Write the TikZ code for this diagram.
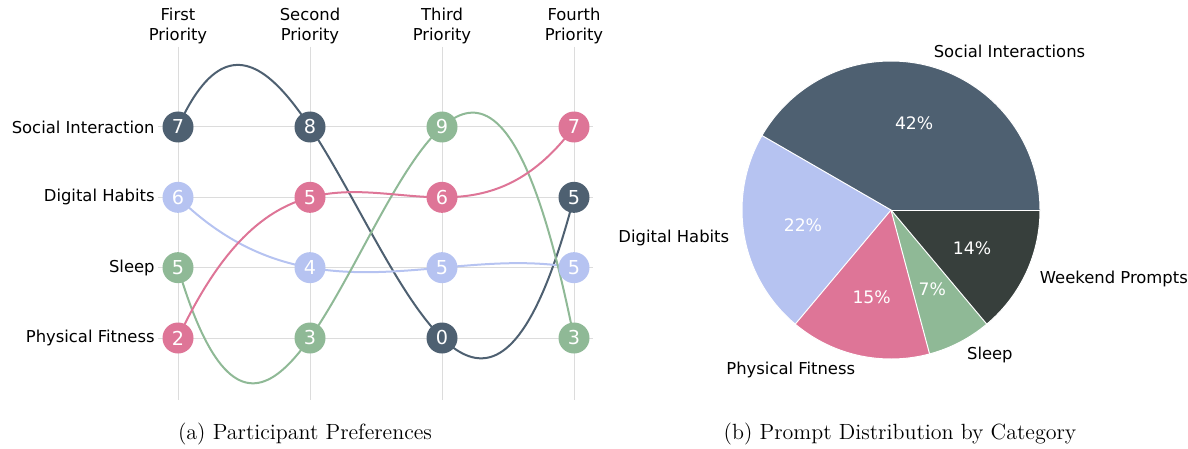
\documentclass[tikz,border=0pt]{standalone}
\usepackage{fontspec}
\newfontfamily\dv{DejaVu Sans}
\definecolor{cdark}{HTML}{4E6071}
\definecolor{cblue}{HTML}{B6C3F1}
\definecolor{cpink}{HTML}{DE7597}
\definecolor{cgreen}{HTML}{8FB996}
\definecolor{cweek}{HTML}{373F3C}
\definecolor{cgrid}{HTML}{DCDCDC}
\pgfdeclarelayer{bg}
\pgfsetlayers{bg,main}
\tikzset{
  dot/.style={circle, minimum size=15.5pt, inner sep=0pt, text=white, font=\dv\fontsize{9.6}{10}\selectfont},
  lbl/.style={font=\dv\fontsize{8.2}{10}\selectfont, inner sep=0pt, text=black},
  hdr/.style={lbl, align=center},
  pct/.style={font=\dv\fontsize{8.6}{10}\selectfont, inner sep=0pt, text=white},
  grid line/.style={draw=cgrid, line width=0.5pt},
  bump/.style={line width=1pt},
  slice/.style={draw=white, line width=0.5pt},
  captext/.style={font=\fontsize{11}{13}\selectfont, inner sep=0pt}
}
\begin{document}
\begin{tikzpicture}[x=0.5pt, y=-0.5pt]
\useasboundingbox (0,0) rectangle (1188,449);
% column headers
\node[hdr] (h1) at (178,26) {First\\Priority};
\node[hdr] (h2) at (310,26) {Second\\Priority};
\node[hdr] (h3) at (442,26) {Third\\Priority};
\node[hdr] (h4) at (574,26) {Fourth\\Priority};
% row labels
\node[lbl, anchor=east] (rs) at (155,127) {Social Interaction};
\node[lbl, anchor=east] (rd) at (155,197.33) {Digital Habits};
\node[lbl, anchor=east] (rl) at (155,267.67) {Sleep};
\node[lbl, anchor=east] (rp) at (155,338) {Physical Fitness};
% nodes column 1
\node[dot, fill=cdark]  (a1) at (178,127) {7};
\node[dot, fill=cblue]  (a2) at (178,197.33) {6};
\node[dot, fill=cgreen] (a3) at (178,267.67) {5};
\node[dot, fill=cpink]  (a4) at (178,338) {2};
% column 2
\node[dot, fill=cdark]  (b1) at (310,127) {8};
\node[dot, fill=cpink]  (b2) at (310,197.33) {5};
\node[dot, fill=cblue]  (b3) at (310,267.67) {4};
\node[dot, fill=cgreen] (b4) at (310,338) {3};
% column 3
\node[dot, fill=cgreen] (c1) at (442,127) {9};
\node[dot, fill=cpink]  (c2) at (442,197.33) {6};
\node[dot, fill=cblue]  (c3) at (442,267.67) {5};
\node[dot, fill=cdark]  (c4) at (442,338) {0};
% column 4
\node[dot, fill=cpink]  (d1) at (574,127) {7};
\node[dot, fill=cdark]  (d2) at (574,197.33) {5};
\node[dot, fill=cblue]  (d3) at (574,267.67) {5};
\node[dot, fill=cgreen] (d4) at (574,338) {3};
% control points
\coordinate (kd1) at (310,-166.05);
\coordinate (kd2) at (442,701.4);
\coordinate (kb1) at (310,326.28);
\coordinate (kb2) at (442,244.22);
\coordinate (kp1) at (310,56.67);
\coordinate (kp2) at (442,302.83);
\coordinate (kg1) at (310,713.1);
\coordinate (kg2) at (442,-318.4);
% grid ends
\coordinate (gt1) at (178,47);  \coordinate (gb1) at (178,400);
\coordinate (gt2) at (310,47);  \coordinate (gb2) at (310,400);
\coordinate (gt3) at (442,47);  \coordinate (gb3) at (442,400);
\coordinate (gt4) at (574,47);  \coordinate (gb4) at (574,400);
\coordinate (gl1) at (158,127);    \coordinate (gr1) at (593,127);
\coordinate (gl2) at (158,197.33); \coordinate (gr2) at (593,197.33);
\coordinate (gl3) at (158,267.67); \coordinate (gr3) at (593,267.67);
\coordinate (gl4) at (158,338);    \coordinate (gr4) at (593,338);
\begin{pgfonlayer}{bg}
  \foreach \i in {1,2,3,4} {
    \draw[grid line] (gt\i) -- (gb\i);
    \draw[grid line] (gl\i) -- (gr\i);
  }
  \draw[bump, cdark]  (a1.center) .. controls (kd1) and (kd2) .. (d2.center);
  \draw[bump, cblue]  (a2.center) .. controls (kb1) and (kb2) .. (d3.center);
  \draw[bump, cgreen] (a3.center) .. controls (kg1) and (kg2) .. (d4.center);
  \draw[bump, cpink]  (a4.center) .. controls (kp1) and (kp2) .. (d1.center);
\end{pgfonlayer}
% pie chart
\begin{scope}[shift={(891,210)}, y=0.5pt]
  \fill[cdark]  (0,0) -- (0:149)   arc[start angle=0,   end angle=150, radius=149] -- cycle;
  \fill[cblue]  (0,0) -- (150:149) arc[start angle=150, end angle=230, radius=149] -- cycle;
  \fill[cpink]  (0,0) -- (230:149) arc[start angle=230, end angle=285, radius=149] -- cycle;
  \fill[cgreen] (0,0) -- (285:149) arc[start angle=285, end angle=310, radius=149] -- cycle;
  \fill[cweek]  (0,0) -- (310:149) arc[start angle=310, end angle=360, radius=149] -- cycle;
  \foreach \a in {0,150,230,285,310} \draw[slice] (0,0) -- (\a:149);
  \draw[slice] (0,0) circle[radius=149];
  \node[pct] (p1) at (75:89.4)    {42\%};
  \node[pct] (p2) at (190:89.4)   {22\%};
  \node[pct] (p3) at (257.5:89.4) {15\%};
  \node[pct] (p4) at (297.5:89.4) {7\%};
  \node[pct] (p5) at (335:89.4)   {14\%};
  \node[lbl, anchor=west] (l1) at (75:163.9)    {Social Interactions};
  \node[lbl, anchor=east] (l2) at (190:163.9)   {Digital Habits};
  \node[lbl, anchor=east] (l3) at (257.5:163.9) {Physical Fitness};
  \node[lbl, anchor=west] (l4) at (297.5:163.9) {Sleep};
  \node[lbl, anchor=west] (l5) at (335:163.9)   {Weekend Prompts};
\end{scope}
% captions
\node[captext] (capa) at (305,434) {(a) Participant Preferences};
\node[captext] (capb) at (900,434) {(b) Prompt Distribution by Category};
\end{tikzpicture}
\end{document}
